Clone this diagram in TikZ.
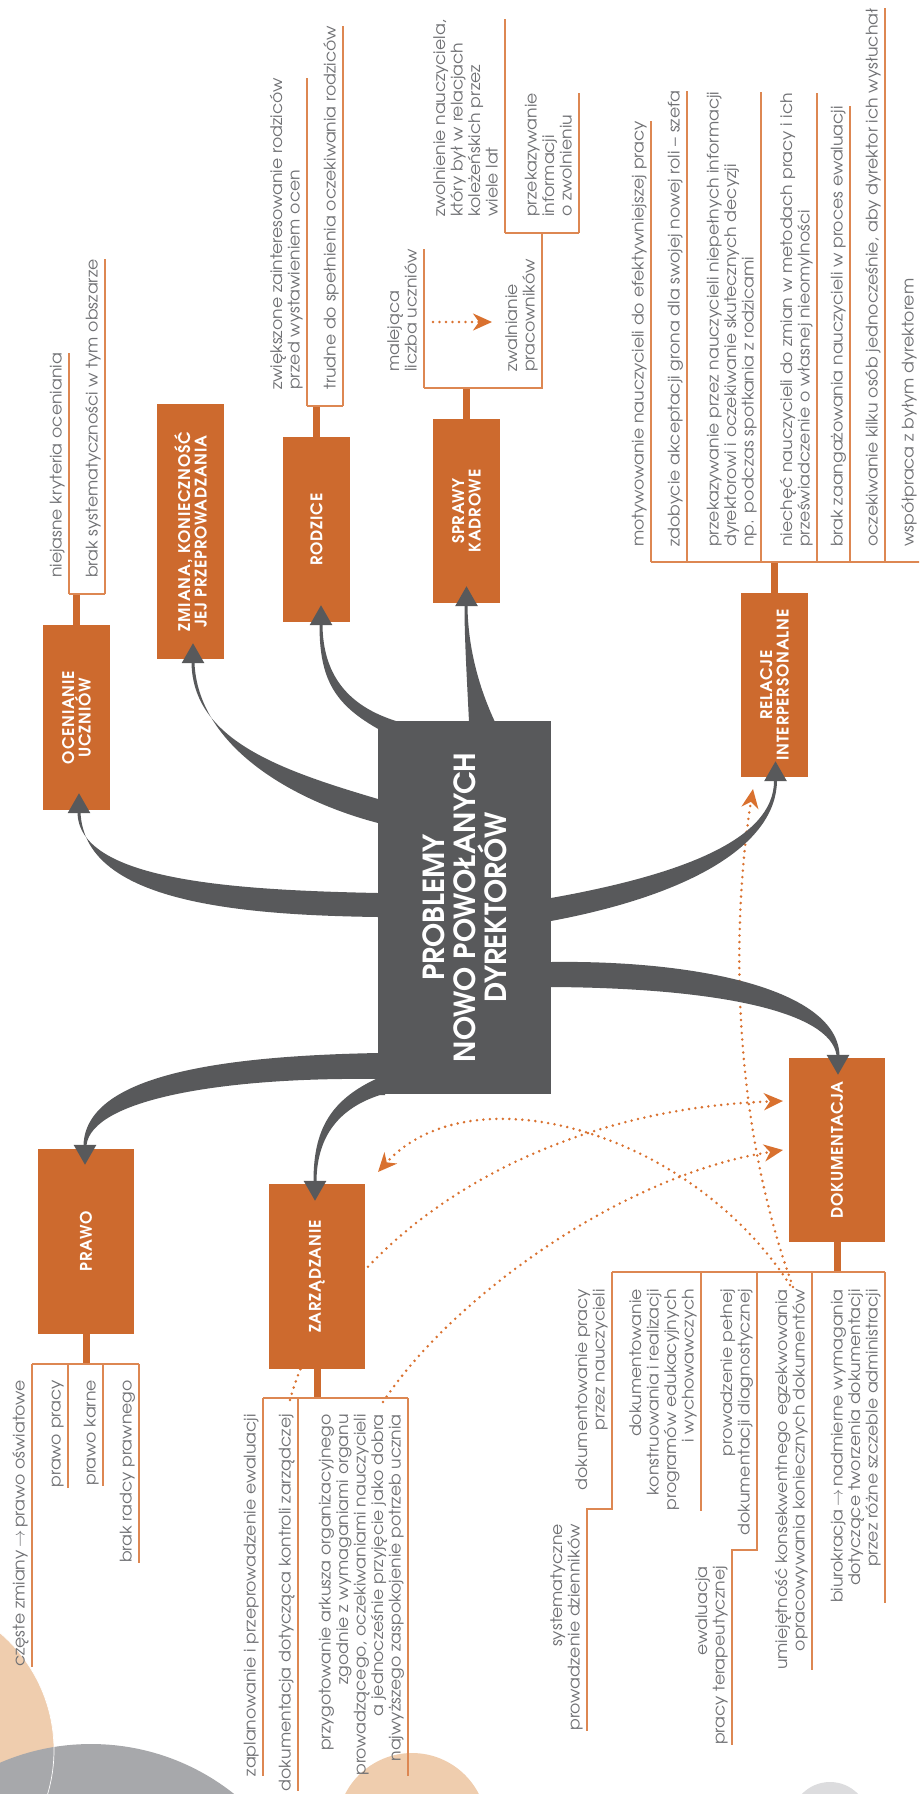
\documentclass[tikz,border=0pt]{standalone}
\usepackage{fontspec}
\setmainfont{texgyreadventor}[Extension=.otf,UprightFont=*-regular,BoldFont=*-bold,ItalicFont=*-italic,BoldItalicFont=*-bolditalic]
\usetikzlibrary{arrows.meta,calc}
\definecolor{orng}{HTML}{CD6A2E}
\definecolor{lin}{HTML}{DD8752}
\definecolor{dotc}{HTML}{D9712F}
\definecolor{dgray}{HTML}{58595B}
\definecolor{txt}{HTML}{707174}
\definecolor{peach}{HTML}{EFCDAE}
\definecolor{cgray}{HTML}{A7A8AB}
\definecolor{lgray}{HTML}{DCDCDE}
\newcommand\itemfont{\fontsize{16}{17.5}\selectfont\addfontfeatures{FakeStretch=1.08}}
\newcommand\boxfont{\fontsize{16}{16.5}\selectfont\bfseries\addfontfeatures{LetterSpace=5}}
\newcommand\titlefont{\fontsize{29}{31}\selectfont\bfseries}
\newcommand\arr{\,$\rightarrow$\,}
\begin{document}
\begin{tikzpicture}[x=1pt,y=-1pt,
 itm/.style={rotate=90,inner sep=0pt,text=txt,font=\itemfont,execute at end node=\strut},
 itl/.style={itm,align=left,anchor=south west},
 itr/.style={itm,align=right,anchor=south east},
 uline/.style={draw=lin,line width=1.3pt},
 stemline/.style={draw=orng,line width=7pt},
 catbox/.style={rotate=90,fill=orng,inner sep=0pt,text=white,font=\boxfont,align=center},
 branch/.style={fill=dgray},
 branchtip/.style={draw=dgray,line width=3pt,-{Triangle[length=20pt,width=22pt]}},
 dots/.style={draw=dotc,line width=2.8pt,line cap=round,dash pattern=on 0pt off 6.5pt},
 dotarrow/.style={dots,-{Stealth[length=19pt,width=17pt,inset=6pt]}},
]
\useasboundingbox (0,0) rectangle (919,1794);
\clip (0,0) rectangle (919,1794);
% background circles
\fill[peach] (-100,1750) circle[radius=154pt];
\fill[cgray] (91,1974) circle[radius=230pt];
\draw[white,line width=0.7pt] (-100,1750) circle[radius=154pt];
\fill[peach] (412,1828) circle[radius=75pt];
\fill[lgray] (830,1821) circle[radius=39pt];

% dotted relations (behind boxes)
\coordinate (za-d1) at (290,1400);
\coordinate (za-d2) at (383,1402);
\coordinate (dk-d1) at (783,1101);
\coordinate (dk-d2) at (783,1150);
\coordinate (dk-d3) at (790,1285);
\coordinate (dk-d4) at (793,1287);
\coordinate (za-d3) at (378,1172);
\coordinate (re-d1) at (753,789);
\draw[dotarrow] (za-d1) .. controls (330,1250) and (520,1110) .. (dk-d1);
\draw[dotarrow] (za-d2) .. controls (450,1300) and (620,1175) .. (dk-d2);
\draw[dotarrow] (dk-d3) .. controls (690,1130) and (470,1070) .. (za-d3);
\draw[dotarrow] (dk-d4) .. controls (725,1100) and (735,900) .. (re-d1);

% gray branches
\fill[branch] (390,892) -- (378,893) .. controls (230,890) and (78,880) .. (77.5,812) -- (80.5,812) .. controls (84,900) and (230,915) .. (378,917) -- (390,917) -- cycle;
\fill[branch] (390,799) -- (378,799) .. controls (280,770) and (193,740) .. (191.5,663) -- (194.5,663) .. controls (198,745) and (290,800) .. (378,823) -- (390,823) -- cycle;
\fill[branch] (380,730) .. controls (335,705) and (319.5,680) .. (319.5,625) -- (322.5,625) .. controls (323,672) and (345,705) .. (396,721) -- (396,735) -- (380,735) -- cycle;
\fill[branch] (469,730) -- (469,722) .. controls (467,680) and (464.5,640) .. (464.5,606) -- (467.5,606) .. controls (468,650) and (480,690) .. (495,722) -- (495,730) -- cycle;
\fill[branch] (540,898) -- (551,898) .. controls (680,875) and (774,840) .. (774,781) -- (777,781) .. controls (776,845) and (690,895) .. (551,921) -- (540,921) -- cycle;
\fill[branch] (540,962) -- (551,962) .. controls (700,960) and (837,990) .. (839.5,1055) -- (836.5,1055) .. controls (830,1012) and (720,988) .. (551,987) -- (540,987) -- cycle;
\fill[branch] (390,1053) -- (378,1053) .. controls (220,1056) and (86,1075) .. (83.5,1145) -- (86.5,1145) .. controls (92,1100) and (220,1077) .. (378,1079) -- (390,1079) -- cycle;
\fill[branch] (385,1078) -- (378,1078) .. controls (330,1100) and (313.5,1130) .. (313.5,1181) -- (316.5,1181) .. controls (317,1135) and (340,1108) .. (380,1095) -- (385,1095) -- cycle;

% boxes
\node[catbox,minimum width=185pt,minimum height=67pt] (oc) at (76.5,717.5) {OCENIANIE\\UCZNIÓW};
\node[catbox,minimum width=255pt,minimum height=67pt] (zm) at (190.5,531.5) {ZMIANA, KONIECZNOŚĆ\\JEJ PRZEPROWADZANIA};
\node[catbox,minimum width=185pt,minimum height=67pt] (ro) at (316.5,529.5) {RODZICE};
\node[catbox,minimum width=184pt,minimum height=67pt] (sk) at (466.5,511) {SPRAWY\\KADROWE};
\node[catbox,minimum width=184pt,minimum height=67pt] (re) at (774.5,685) {RELACJE\\INTERPERSONALNE};
\node[catbox,minimum width=184pt,minimum height=96pt] (dk) at (837,1150) {DOKUMENTACJA};
\node[catbox,minimum width=185pt,minimum height=96pt] (pr) at (86,1241.5) {PRAWO};
\node[catbox,minimum width=185pt,minimum height=96pt] (za) at (317,1276.5) {ZARZĄDZANIE};
\node[catbox,fill=dgray,font=\titlefont,minimum width=373pt,minimum height=173pt] (c) at (464.5,907.5) {PROBLEMY\\NOWO POWOŁANYCH\\DYREKTORÓW};

% arrow tips of branches
\draw[branchtip] ($(oc.west)+(2.5,3)$) -- ($(oc.west)+(2.5,-17)$);
\draw[branchtip] ($(zm.west)+(2.5,4)$) -- ($(zm.west)+(2.5,-16)$);
\draw[branchtip] ($(ro.west)+(4.5,3)$) -- ($(ro.west)+(4.5,-17)$);
\draw[branchtip] ($(sk.west)+(0,3)$) -- ($(sk.west)+(0,-17)$);
\draw[branchtip] ($(re.west)+(1,4)$) -- ($(re.west)+(1,-16)$);
\draw[branchtip] ($(dk.east)+(1,-3)$) -- ($(dk.east)+(1,17)$);
\draw[branchtip] ($(pr.east)+(-1,-4)$) -- ($(pr.east)+(-1,16)$);
\draw[branchtip] ($(za.east)+(-2,-3)$) -- ($(za.east)+(-2,17)$);

% OCENIANIE
\coordinate (oc-b) at (76.5,594);
\coordinate (oc-l1) at (69,594);
\coordinate (oc-l2) at (105,594);
\draw[stemline] (oc.east) -- (oc-b);
\draw[uline] (oc-l1) -- (oc-l2);
\node[itl] (oc1) at (67,578) {niejasne kryteria oceniania};
\node[itl] (oc2) at (103,578) {brak systematyczności w tym obszarze};
\draw[uline] (oc-l1) -- (oc-l1 |- oc1.east);
\draw[uline] (oc-l2) -- (oc-l2 |- oc2.east);

% RODZICE
\coordinate (ro-b) at (316.5,406);
\coordinate (ro-l1) at (307,406);
\coordinate (ro-l2) at (343,406);
\draw[stemline] (ro.east) -- (ro-b);
\draw[uline] (ro-l1) -- (ro-l2);
\node[itl] (ro1) at (305,390) {zwiększone zainteresowanie rodziców\\przed wystawieniem ocen};
\node[itl] (ro2) at (341,390) {trudne do spełnienia oczekiwania rodziców};
\draw[uline] (ro-l1) -- (ro-l1 |- ro1.east);
\draw[uline] (ro-l2) -- (ro-l2 |- ro2.east);

% SPRAWY KADROWE
\coordinate (sk-b) at (466.5,388);
\coordinate (sk-l1) at (424,388);
\coordinate (sk-l2) at (542,388);
\coordinate (sk-s) at (542,233);
\coordinate (sk-l3) at (505,233);
\coordinate (sk-l4) at (579,233);
\draw[stemline] (sk.east) -- (sk-b);
\draw[uline] (sk-l1) -- (sk-l2) -- (sk-s);
\draw[uline] (sk-l3) -- (sk-l4);
\node[itl] (sk1) at (422,372) {malejąca\\liczba uczniów};
\node[itl] (sk2) at (540,372) {zwalnianie\\pracowników};
\node[itl] (sk3) at (503,217) {zwolnienie nauczyciela,\\który był w relacjach\\koleżeńskich przez\\wiele lat};
\node[itl] (sk4) at (577,217) {przekazywanie\\informacji\\o zwolnieniu};
\draw[uline] (sk-l1) -- (sk-l1 |- sk1.east);
\draw[uline] (sk-l3) -- (sk-l3 |- sk3.east);
\draw[uline] (sk-l4) -- (sk-l4 |- sk4.east);
\coordinate (sk-d1) at (433,322);
\coordinate (sk-d2) at (492,322);
\draw[dotarrow] (sk-d1) -- (sk-d2);

% RELACJE
\coordinate (re-b) at (774.5,562);
\draw[stemline] (re.east) -- (re-b);
\coordinate (re-l1) at (651,562);
\coordinate (re-l2) at (687,562);
\coordinate (re-l3) at (761,562);
\coordinate (re-l4) at (817,562);
\coordinate (re-l5) at (850,562);
\coordinate (re-l6) at (885,562);
\coordinate (re-l7) at (921,562);
\draw[uline] (re-l1) -- (re-l7);
\node[itl] (re1) at (649,547) {motywowanie nauczycieli do efektywniejszej pracy};
\node[itl] (re2) at (685,547) {zdobycie akceptacji grona dla swojej nowej roli – szefa};
\node[itl] (re3) at (759,547) {przekazywanie przez nauczycieli niepełnych informacji\\dyrektorowi i oczekiwanie skutecznych decyzji\\np. podczas spotkania z rodzicami};
\node[itl] (re4) at (815,547) {niechęć nauczycieli do zmian w metodach pracy i ich\\przeświadczenie o własnej nieomylności};
\node[itl] (re5) at (848,547) {brak zaangażowania nauczycieli w proces ewaluacji};
\node[itl] (re6) at (883,547) {oczekiwanie kilku osób jednocześnie, aby dyrektor ich wysłuchał};
\node[itl] (re7) at (919,547) {współpraca z byłym dyrektorem};
\foreach \i in {1,...,7}{\draw[uline] (re-l\i) -- (re-l\i |- re\i.east);}

% DOKUMENTACJA
\coordinate (dk-b) at (837,1272);
\draw[stemline] (dk.west) -- (dk-b);
\coordinate (dk-l1) at (612,1272);
\coordinate (dk-l2) at (701,1272);
\coordinate (dk-l3) at (757,1272);
\coordinate (dk-l4) at (812,1272);
\coordinate (dk-l5) at (885,1272);
\coordinate (dk-s1) at (612,1509);
\coordinate (dk-s1b) at (587,1509);
\coordinate (dk-s3) at (757,1550);
\coordinate (dk-s3b) at (732,1550);
\draw[uline] (dk-l1) -- (dk-l5);
\node[itr] (dk1) at (610,1289) {dokumentowanie pracy\\przez nauczycieli};
\node[itr] (dk1s) at (585,1524) {systematyczne\\prowadzenie dzienników};
\node[itr] (dk2) at (699,1289) {dokumentowanie\\konstruowania i realizacji\\programów edukacyjnych\\i wychowawczych};
\node[itr] (dk3) at (755,1289) {prowadzenie pełnej\\dokumentacji diagnostycznej};
\node[itr] (dk3s) at (730,1566) {ewaluacja\\pracy terapeutycznej};
\node[itr] (dk4) at (810,1289) {umiejętność konsekwentnego egzekwowania\\opracowywania koniecznych dokumentów};
\node[itr] (dk5) at (883,1289) {biurokracja\arr nadmierne wymagania\\dotyczące tworzenia dokumentacji\\przez różne szczeble administracji};
\draw[uline] (dk-l1) -- (dk-s1) -- (dk-s1b) -- (dk-s1b |- dk1s.west);
\draw[uline] (dk-l2) -- (dk-l2 |- dk2.west);
\draw[uline] (dk-l3) -- (dk-s3) -- (dk-s3b) -- (dk-s3b |- dk3s.west);
\draw[uline] (dk-l4) -- (dk-l4 |- dk4.west);
\draw[uline] (dk-l5) -- (dk-l5 |- dk5.west);

% PRAWO
\coordinate (pr-b) at (86,1364);
\draw[stemline] (pr.west) -- (pr-b);
\coordinate (pr-l1) at (32,1364);
\coordinate (pr-l2) at (68,1364);
\coordinate (pr-l3) at (103,1364);
\coordinate (pr-l4) at (139,1364);
\draw[uline] (pr-l1) -- (pr-l4);
\node[itr] (pr1) at (30,1380) {częste zmiany\arr prawo oświatowe};
\node[itr] (pr2) at (66,1380) {prawo pracy};
\node[itr] (pr3) at (101,1380) {prawo karne};
\node[itr] (pr4) at (137,1380) {brak radcy prawnego};
\foreach \i in {1,...,4}{\draw[uline] (pr-l\i) -- (pr-l\i |- pr\i.west);}

% ZARZADZANIE
\coordinate (za-b) at (317,1398);
\draw[stemline] (za.west) -- (za-b);
\coordinate (za-l1) at (263,1398);
\coordinate (za-l2) at (298,1398);
\coordinate (za-l3) at (408,1398);
\draw[uline] (za-l1) -- (za-l3);
\node[itr] (za1) at (261,1414) {zaplanowanie i przeprowadzenie ewaluacji};
\node[itr] (za2) at (296,1414) {dokumentacja dotycząca kontroli zarządczej};
\node[itr] (za3) at (406,1414) {przygotowanie arkusza organizacyjnego\\zgodnie z wymaganiami organu\\prowadzącego, oczekiwaniami nauczycieli\\a jednocześnie przyjęcie jako dobra\\najwyższego zaspokojenie potrzeb ucznia};
\foreach \i in {1,...,3}{\draw[uline] (za-l\i) -- (za-l\i |- za\i.west);}
\end{tikzpicture}
\end{document}
